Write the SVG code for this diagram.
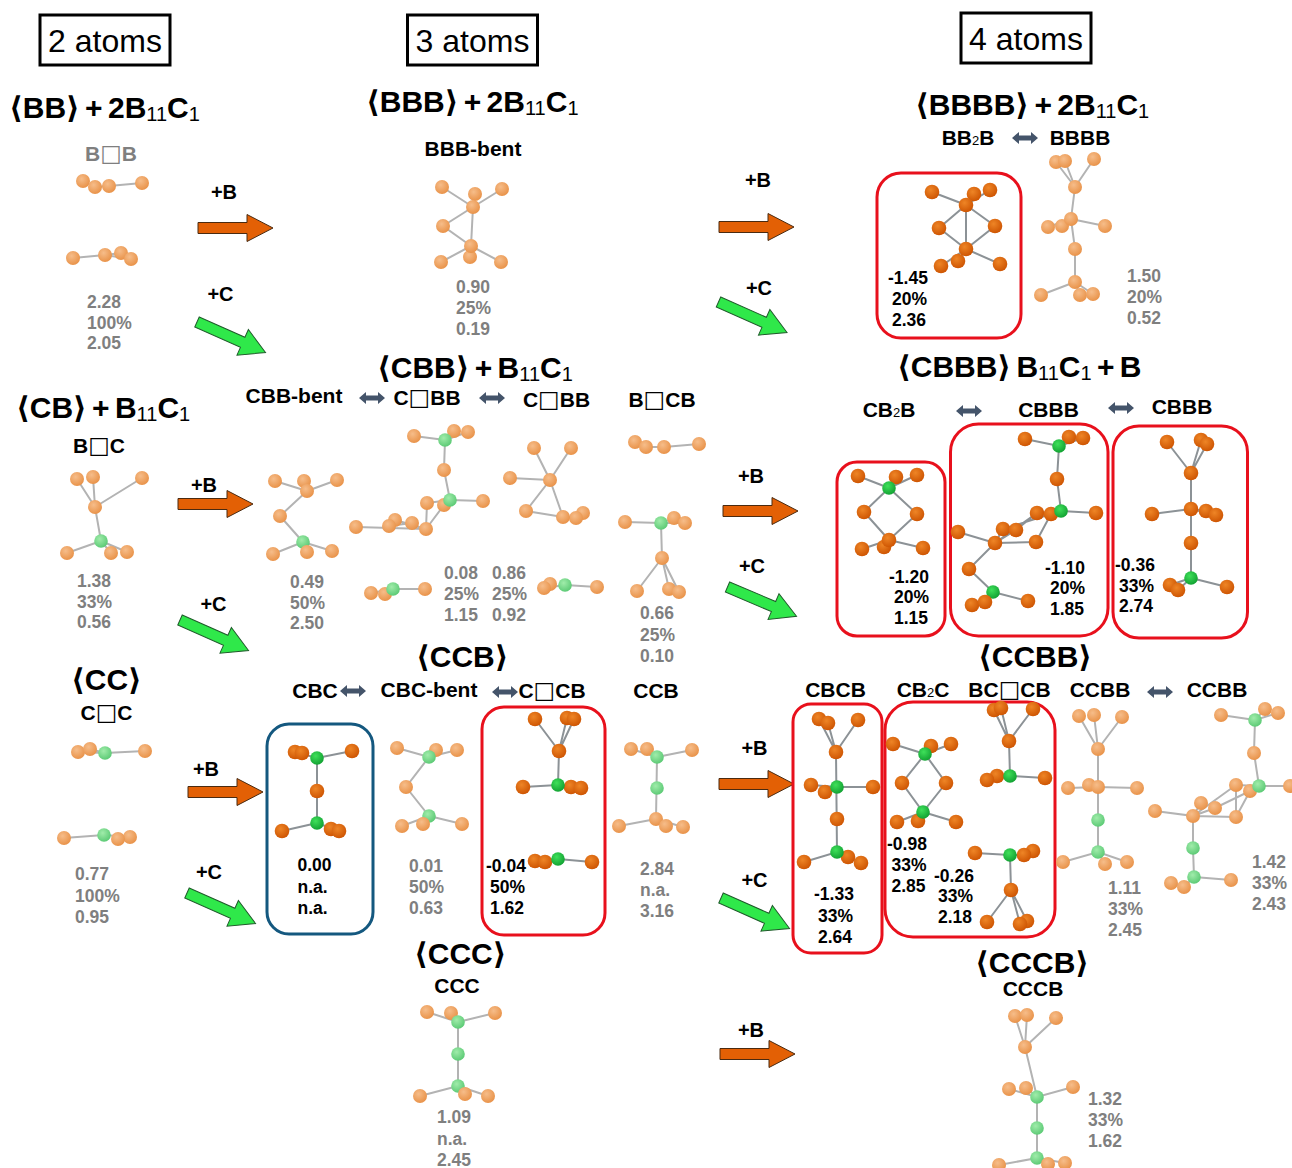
<svg xmlns="http://www.w3.org/2000/svg" width="1292" height="1168" viewBox="0 0 1292 1168">
<style>
text{font-family:"Liberation Sans","DejaVu Sans",sans-serif;font-weight:700;fill:#000}
.t{font-size:32px;font-weight:400;text-anchor:middle}
.h{font-size:30px;word-spacing:-3px}
.s{font-size:20px;font-weight:400}
.l{font-size:21px;text-anchor:middle}
.q{font-family:"DejaVu Sans",sans-serif;font-weight:400;font-size:23px}
.ls{font-size:13px;font-weight:400}
.p{font-size:20px;text-anchor:middle}
.n{font-size:17.5px}
.g{fill:#7f7f7f}
.bl,.bd{fill:none;stroke-linecap:round}
.bl{stroke:#b3b3b3;stroke-width:2}
.bd{stroke:#8c9296;stroke-width:2}
.box{fill:none;stroke-width:3}
.r{stroke:#e8101c}
.u{stroke:#14587f}
.hb{fill:#fff;stroke:#000;stroke-width:3}
.ao{fill:#e36005;stroke:#4a2a10;stroke-width:1}
.ag{fill:#2fe84a;stroke:#1f5a2a;stroke-width:1}
.da{fill:#44546a}
</style>
<defs>
<radialGradient id="go" cx="40%" cy="35%" r="70%"><stop offset="0" stop-color="#f6bd8a"/><stop offset="1" stop-color="#e89045"/></radialGradient>
<radialGradient id="gO" cx="40%" cy="35%" r="70%"><stop offset="0" stop-color="#ee8526"/><stop offset="1" stop-color="#cc5200"/></radialGradient>
<radialGradient id="gg" cx="40%" cy="35%" r="70%"><stop offset="0" stop-color="#a0ecaa"/><stop offset="1" stop-color="#58c872"/></radialGradient>
<radialGradient id="gG" cx="40%" cy="35%" r="70%"><stop offset="0" stop-color="#3fe05a"/><stop offset="1" stop-color="#0f9e30"/></radialGradient>
<circle id="o" r="7" fill="url(#go)"/>
<circle id="O" r="7.3" fill="url(#gO)"/>
<circle id="g" r="6.8" fill="url(#gg)"/>
<circle id="G" r="6.8" fill="url(#gG)"/>
<polygon id="arO" class="ao" points="0,-5.5 49,-5.5 49,-13.5 75,0 49,13.5 49,5.5 0,5.5"/>
<polygon id="arG" class="ag" points="0,-5.5 50,-5.5 50,-14 75,0 50,14 50,5.5 0,5.5"/>
<polygon id="da" class="da" points="-13,0 -6,-6 -6,-2.500 6,-2.500 6,-6 13,0 6,6 6,2.500 -6,2.500 -6,6"/>
</defs>
<rect width="1292" height="1168" fill="#fff"/>

<g id="connectors">
<use href="#arO" x="198" y="228"/>
<use href="#arO" x="719" y="227"/>
<use href="#arO" x="178" y="504"/>
<use href="#arO" x="723" y="511"/>
<use href="#arO" x="188" y="792"/>
<use href="#arO" x="719" y="784"/>
<use href="#arO" x="720" y="1054"/>
<use href="#arG" transform="translate(197 322) rotate(24)"/>
<use href="#arG" transform="translate(718.5 302) rotate(24)"/>
<use href="#arG" transform="translate(180 620) rotate(24)"/>
<use href="#arG" transform="translate(727.5 587) rotate(23)"/>
<use href="#arG" transform="translate(187 893) rotate(24)"/>
<use href="#arG" transform="translate(721 898) rotate(24)"/>
<use href="#da" x="372" y="398"/>
<use href="#da" x="492" y="398"/>
<use href="#da" x="1025" y="138"/>
<use href="#da" x="969" y="411"/>
<use href="#da" x="1121" y="408"/>
<use href="#da" x="353" y="691"/>
<use href="#da" x="505" y="692"/>
<use href="#da" x="1160" y="692"/>
<text class="p" x="224" y="199">+B</text>
<text class="p" x="220.5" y="301">+C</text>
<text class="p" x="758" y="187">+B</text>
<text class="p" x="759" y="295">+C</text>
<text class="p" x="204" y="492">+B</text>
<text class="p" x="213.5" y="611">+C</text>
<text class="p" x="751" y="483">+B</text>
<text class="p" x="752" y="573">+C</text>
<text class="p" x="206" y="776">+B</text>
<text class="p" x="209" y="879">+C</text>
<text class="p" x="754.5" y="755">+B</text>
<text class="p" x="754.5" y="887">+C</text>
<text class="p" x="751" y="1037">+B</text>
</g>

<g id="headers">
<rect class="hb" x="40" y="15" width="130" height="50"/><text class="t" x="105" y="52">2 atoms</text>
<rect class="hb" x="407.500" y="15" width="130" height="50"/><text class="t" x="472.500" y="52">3 atoms</text>
<rect class="hb" x="961" y="13" width="130" height="50"/><text class="t" x="1026" y="50">4 atoms</text>
<text class="h" x="9" y="118">⟨BB⟩ + 2B<tspan class="s" dy="3">11</tspan><tspan dy="-3">C</tspan><tspan class="s" dy="3">1</tspan></text>
<text class="h" x="366" y="112">⟨BBB⟩ + 2B<tspan class="s" dy="3">11</tspan><tspan dy="-3">C</tspan><tspan class="s" dy="3">1</tspan></text>
<text class="h" x="915" y="115">⟨BBBB⟩ + 2B<tspan class="s" dy="3">11</tspan><tspan dy="-3">C</tspan><tspan class="s" dy="3">1</tspan></text>
<text class="h" x="377" y="378">⟨CBB⟩ + B<tspan class="s" dy="3">11</tspan><tspan dy="-3">C</tspan><tspan class="s" dy="3">1</tspan></text>
<text class="h" x="897" y="377">⟨CBBB⟩ B<tspan class="s" dy="3">11</tspan><tspan dy="-3">C</tspan><tspan class="s" dy="3">1</tspan><tspan dy="-3"> + B</tspan></text>
<text class="h" x="16" y="418">⟨CB⟩ + B<tspan class="s" dy="3">11</tspan><tspan dy="-3">C</tspan><tspan class="s" dy="3">1</tspan></text>
<text class="h" x="416" y="667">⟨CCB⟩</text>
<text class="h" x="978" y="667">⟨CCBB⟩</text>
<text class="h" x="71" y="690">⟨CC⟩</text>
<text class="h" x="414" y="964">⟨CCC⟩</text>
<text class="h" x="975" y="973">⟨CCCB⟩</text>
</g>

<g id="labels">
<text class="l g" x="111" y="161">B<tspan class="q">□</tspan>B</text>
<text class="l" x="473" y="156">BBB-bent</text>
<text class="l" x="968" y="145">BB<tspan class="ls">2</tspan>B</text>
<text class="l" x="1080" y="145">BBBB</text>
<text class="l" x="294" y="403">CBB-bent</text>
<text class="l" x="427" y="405">C<tspan class="q">□</tspan>BB</text>
<text class="l" x="556.500" y="407">C<tspan class="q">□</tspan>BB</text>
<text class="l" x="662" y="407">B<tspan class="q">□</tspan>CB</text>
<text class="l" x="99" y="453">B<tspan class="q">□</tspan>C</text>
<text class="l" x="889" y="417">CB<tspan class="ls">2</tspan>B</text>
<text class="l" x="1048.500" y="417">CBBB</text>
<text class="l" x="1182" y="414">CBBB</text>
<text class="l" x="106.500" y="720">C<tspan class="q">□</tspan>C</text>
<text class="l" x="315" y="698">CBC</text>
<text class="l" x="429" y="697">CBC-bent</text>
<text class="l" x="552" y="698">C<tspan class="q">□</tspan>CB</text>
<text class="l" x="656" y="698">CCB</text>
<text class="l" x="835.500" y="697">CBCB</text>
<text class="l" x="923" y="697">CB<tspan class="ls">2</tspan>C</text>
<text class="l" x="1009.500" y="697">BC<tspan class="q">□</tspan>CB</text>
<text class="l" x="1100" y="697">CCBB</text>
<text class="l" x="1217" y="697">CCBB</text>
<text class="l" x="457" y="993">CCC</text>
<text class="l" x="1033" y="996">CCCB</text>
</g>

<g id="highlight-boxes">
<rect class="box r" x="877" y="173" width="144" height="165" rx="24"/>
<rect class="box r" x="837" y="462" width="108" height="174" rx="20"/>
<rect class="box r" x="950.500" y="424" width="157.500" height="212" rx="28"/>
<rect class="box r" x="1113" y="426" width="134.500" height="212" rx="26"/>
<rect class="box u" x="267" y="724" width="106" height="210" rx="22"/>
<rect class="box r" x="482" y="707" width="123" height="228" rx="22"/>
<rect class="box r" x="793" y="704" width="89" height="249" rx="18"/>
<rect class="box r" x="885" y="702" width="170" height="235" rx="28"/>
</g>

<g id="mol-BoB">
<path class="bl" d="M83,181L95,187L109,186L142,183M73,258L105,255L131,259M105,255L121,253"/>
<use href="#o" x="83" y="181"/><use href="#o" x="95" y="187"/><use href="#o" x="109" y="186"/><use href="#o" x="142" y="183"/>
<use href="#o" x="73" y="258"/><use href="#o" x="105" y="255"/><use href="#o" x="121" y="253"/><use href="#o" x="131" y="259"/>
<text class="n g" x="87" y="308">2.28</text><text class="n g" x="87" y="329">100%</text><text class="n g" x="87" y="349">2.05</text>
</g>
<g id="mol-BBB-bent">
<path class="bl" d="M442,187L473,207M475,194L473,207M502,189L473,207M473,207L443,226L471,246M473,207L471,246M471,246L470,257M471,246L441,262M471,246L501,262"/>
<use href="#o" x="442" y="187"/><use href="#o" x="475" y="194"/><use href="#o" x="502" y="189"/><use href="#o" x="473" y="207"/><use href="#o" x="443" y="226"/><use href="#o" x="470" y="257"/><use href="#o" x="471" y="246"/><use href="#o" x="441" y="262"/><use href="#o" x="501" y="262"/>
<text class="n g" x="456" y="293">0.90</text><text class="n g" x="456" y="314">25%</text><text class="n g" x="456" y="335">0.19</text>
</g>
<g id="mol-BB2B">
<path class="bd" d="M932,192L966,205M974,194L966,205M990,190L966,205M966,205L939,228L966,249M966,205L995,226L966,249M966,205L966,249M966,249L941,266M966,249L958,261M966,249L1000,264"/>
<use href="#O" x="932" y="192"/><use href="#O" x="990" y="190"/><use href="#O" x="974" y="194"/><use href="#O" x="966" y="205"/><use href="#O" x="939" y="228"/><use href="#O" x="995" y="226"/><use href="#O" x="958" y="261"/><use href="#O" x="966" y="249"/><use href="#O" x="941" y="266"/><use href="#O" x="1000" y="264"/>
<text class="n" x="888" y="284">-1.45</text><text class="n" x="892" y="305">20%</text><text class="n" x="892" y="326">2.36</text>
</g>
<g id="mol-BBBB">
<path class="bl" d="M1056,162L1075,187M1065,161L1075,187M1094,159L1075,187M1075,187L1071,219M1071,219L1048,227M1071,219L1062,226M1071,219L1105,226M1071,219L1075,249L1075,282M1075,282L1041,295M1075,282L1080,295M1075,282L1093,294"/>
<use href="#o" x="1056" y="162"/><use href="#o" x="1065" y="161"/><use href="#o" x="1094" y="159"/><use href="#o" x="1075" y="187"/><use href="#o" x="1048" y="227"/><use href="#o" x="1062" y="226"/><use href="#o" x="1071" y="219"/><use href="#o" x="1105" y="226"/><use href="#o" x="1075" y="249"/><use href="#o" x="1075" y="282"/><use href="#o" x="1041" y="295"/><use href="#o" x="1080" y="295"/><use href="#o" x="1093" y="294"/>
<text class="n g" x="1127" y="282">1.50</text><text class="n g" x="1127" y="303">20%</text><text class="n g" x="1127" y="324">0.52</text>
</g>
<g id="mol-BoC">
<path class="bl" d="M77,479L95,507M93,477L95,507M142,478L95,507M95,507L101,541M101,541L67,553M101,541L111,553M101,541L127,552"/>
<use href="#o" x="77" y="479"/><use href="#o" x="93" y="477"/><use href="#o" x="142" y="478"/><use href="#o" x="95" y="507"/><use href="#g" x="101" y="541"/><use href="#o" x="67" y="553"/><use href="#o" x="111" y="553"/><use href="#o" x="127" y="552"/>
<text class="n g" x="77" y="587">1.38</text><text class="n g" x="77" y="608">33%</text><text class="n g" x="77" y="628">0.56</text>
</g>
<g id="mol-CBB-bent">
<path class="bl" d="M275,481L307,491M304,481L307,491M337,480L307,491M307,491L280,516L303,542M303,542L273,554M303,542L307,552M303,542L332,551"/>
<use href="#o" x="275" y="481"/><use href="#o" x="304" y="481"/><use href="#o" x="337" y="480"/><use href="#o" x="307" y="491"/><use href="#o" x="280" y="516"/><use href="#g" x="303" y="542"/><use href="#o" x="273" y="554"/><use href="#o" x="307" y="552"/><use href="#o" x="332" y="551"/>
<text class="n g" x="290" y="588">0.49</text><text class="n g" x="290" y="609">50%</text><text class="n g" x="290" y="629">2.50</text>
</g>
<g id="mol-CoBB-1">
<path class="bl" d="M414,436L445,440M454,431L445,440M468,432L445,440M445,440L444,470L450,500M450,500L483,501M450,500L444,505M450,500L427,503M444,505L426,529M427,503L426,529M426,529L356,527M389,526L395,520L426,529M412,523L389,526M371,593L393,589L425,589"/>
<use href="#o" x="414" y="436"/><use href="#o" x="454" y="431"/><use href="#o" x="468" y="432"/><use href="#g" x="445" y="440"/><use href="#o" x="444" y="470"/><use href="#o" x="483" y="501"/><use href="#o" x="427" y="503"/><use href="#o" x="444" y="505"/><use href="#g" x="450" y="500"/><use href="#o" x="356" y="527"/><use href="#o" x="395" y="520"/><use href="#o" x="389" y="526"/><use href="#o" x="412" y="523"/><use href="#o" x="426" y="529"/>
<use href="#o" x="371" y="593"/><use href="#o" x="385" y="594"/><use href="#g" x="393" y="589"/><use href="#o" x="425" y="589"/>
<text class="n g" x="444" y="579">0.08</text><text class="n g" x="444" y="600">25%</text><text class="n g" x="444" y="621">1.15</text>
</g>
<g id="mol-CoBB-2">
<path class="bl" d="M534,448L550,480M571,448L550,480M510,478L550,480M550,480L526,511L563,517L550,480M563,517L576,518M544,588L565,585L597,587"/>
<use href="#o" x="534" y="448"/><use href="#o" x="571" y="448"/><use href="#o" x="510" y="478"/><use href="#o" x="550" y="480"/><use href="#o" x="526" y="511"/><use href="#o" x="583" y="513"/><use href="#o" x="576" y="518"/><use href="#o" x="563" y="517"/>
<use href="#o" x="550" y="584"/><use href="#o" x="544" y="588"/><use href="#g" x="565" y="585"/><use href="#o" x="597" y="587"/>
<text class="n g" x="492" y="579">0.86</text><text class="n g" x="492" y="600">25%</text><text class="n g" x="492" y="621">0.92</text>
</g>
<g id="mol-BoCB">
<path class="bl" d="M635,442L646,447L664,447L699,444M625,522L661,523L685,523M661,523L674,518M661,523L662,558M662,558L637,591M662,558L669,589M662,558L679,592"/>
<use href="#o" x="635" y="442"/><use href="#o" x="646" y="447"/><use href="#o" x="664" y="447"/><use href="#o" x="699" y="444"/><use href="#o" x="625" y="522"/><use href="#o" x="674" y="518"/><use href="#g" x="661" y="523"/><use href="#o" x="685" y="523"/><use href="#o" x="662" y="558"/><use href="#o" x="637" y="591"/><use href="#o" x="669" y="589"/><use href="#o" x="679" y="592"/>
<text class="n g" x="640" y="619">0.66</text><text class="n g" x="640" y="641">25%</text><text class="n g" x="640" y="662">0.10</text>
</g>
<g id="mol-CB2B">
<path class="bd" d="M858,476L889,488M896,477L889,488M917,475L889,488M889,488L864,512L889,540M889,488L917,514L889,540M889,540L862,549M889,540L884,547M889,540L923,548"/>
<use href="#O" x="858" y="476"/><use href="#O" x="896" y="477"/><use href="#O" x="917" y="475"/><use href="#G" x="889" y="488"/><use href="#O" x="864" y="512"/><use href="#O" x="917" y="514"/><use href="#O" x="884" y="547"/><use href="#O" x="889" y="540"/><use href="#O" x="862" y="549"/><use href="#O" x="923" y="548"/>
<text class="n" x="889" y="583">-1.20</text><text class="n" x="894" y="603">20%</text><text class="n" x="894" y="624">1.15</text>
</g>
<g id="mol-CBBB-1">
<path class="bd" d="M1025,439L1059,446M1069,437L1059,446M1083,438L1059,446M1059,446L1057,479L1061,511M1061,511L1096,513M1061,511L1037,513M1051,514L1036,542M1037,513L995,543M1036,542L995,543M995,543L1016,530L1037,513M995,543L1003,529L1051,514M958,532L995,543L969,569L993,592M993,592L1028,601M993,592L985,602L972,605"/>
<use href="#O" x="1025" y="439"/><use href="#O" x="1069" y="437"/><use href="#O" x="1083" y="438"/><use href="#G" x="1059" y="446"/><use href="#O" x="1057" y="479"/><use href="#O" x="1096" y="513"/><use href="#O" x="1037" y="513"/><use href="#O" x="1051" y="514"/><use href="#G" x="1061" y="511"/><use href="#O" x="1036" y="542"/><use href="#O" x="1003" y="529"/><use href="#O" x="1016" y="530"/><use href="#O" x="995" y="543"/><use href="#O" x="958" y="532"/><use href="#O" x="969" y="569"/><use href="#G" x="993" y="592"/><use href="#O" x="1028" y="601"/><use href="#O" x="972" y="605"/><use href="#O" x="985" y="602"/>
<text class="n" x="1045" y="574">-1.10</text><text class="n" x="1050" y="594">20%</text><text class="n" x="1050" y="615">1.85</text>
</g>
<g id="mol-CBBB-2">
<path class="bd" d="M1167,442L1191,473M1201,440L1191,473M1207,444L1191,473M1191,473L1191,578M1152,514L1191,509L1216,515M1191,509L1206,511M1191,578L1170,585M1191,578L1178,590M1191,578L1227,587"/>
<use href="#O" x="1167" y="442"/><use href="#O" x="1201" y="440"/><use href="#O" x="1207" y="444"/><use href="#O" x="1191" y="473"/><use href="#O" x="1152" y="514"/><use href="#O" x="1206" y="511"/><use href="#O" x="1191" y="509"/><use href="#O" x="1216" y="515"/><use href="#O" x="1191" y="543"/><use href="#G" x="1191" y="578"/><use href="#O" x="1170" y="585"/><use href="#O" x="1178" y="590"/><use href="#O" x="1227" y="587"/>
<text class="n" x="1115" y="571">-0.36</text><text class="n" x="1119" y="592">33%</text><text class="n" x="1119" y="612">2.74</text>
</g>
<g id="mol-CoC">
<path class="bl" d="M78,752L105,753L145,751M90,749L105,753M64,838L104,835L130,837"/>
<use href="#o" x="78" y="752"/><use href="#o" x="90" y="749"/><use href="#g" x="105" y="753"/><use href="#o" x="145" y="751"/>
<use href="#o" x="64" y="838"/><use href="#g" x="104" y="835"/><use href="#o" x="130" y="837"/><use href="#o" x="118" y="839"/>
<text class="n g" x="75" y="880">0.77</text><text class="n g" x="75" y="902">100%</text><text class="n g" x="75" y="923">0.95</text>
</g>
<g id="mol-CBC">
<path class="bd" d="M295,752L317,758L352,751M317,758L317,823M317,823L282,831M317,823L339,831"/>
<use href="#O" x="295" y="752"/><use href="#O" x="302" y="753"/><use href="#O" x="352" y="751"/><use href="#G" x="317" y="758"/><use href="#O" x="317" y="791"/><use href="#G" x="317" y="823"/><use href="#O" x="282" y="831"/><use href="#O" x="331" y="829"/><use href="#O" x="339" y="831"/>
<text class="n" x="297.500" y="871">0.00</text><text class="n" x="297.500" y="893">n.a.</text><text class="n" x="297.500" y="914">n.a.</text>
</g>
<g id="mol-CBC-bent">
<path class="bl" d="M397,748L429,757M436,750L429,757M457,750L429,757M429,757L406,787L429,816M429,816L402,826M429,816L423,824M429,816L462,824"/>
<use href="#o" x="397" y="748"/><use href="#o" x="436" y="750"/><use href="#o" x="457" y="750"/><use href="#g" x="429" y="757"/><use href="#o" x="406" y="787"/><use href="#g" x="429" y="816"/><use href="#o" x="402" y="826"/><use href="#o" x="423" y="824"/><use href="#o" x="462" y="824"/>
<text class="n g" x="409" y="872">0.01</text><text class="n g" x="409" y="893">50%</text><text class="n g" x="409" y="914">0.63</text>
</g>
<g id="mol-CoCB">
<path class="bd" d="M535,719L559,751M567,718L559,751M574,719L559,751M559,751L558,785M523,787L558,785L581,788M535,861L558,859L592,862"/>
<use href="#O" x="535" y="719"/><use href="#O" x="567" y="718"/><use href="#O" x="574" y="719"/><use href="#O" x="559" y="751"/><use href="#O" x="523" y="787"/><use href="#O" x="571" y="787"/><use href="#O" x="581" y="788"/><use href="#G" x="558" y="785"/>
<use href="#O" x="535" y="861"/><use href="#O" x="545" y="862"/><use href="#G" x="558" y="859"/><use href="#O" x="592" y="862"/>
<text class="n" x="486" y="872">-0.04</text><text class="n" x="490" y="893">50%</text><text class="n" x="490" y="914">1.62</text>
</g>
<g id="mol-CCB">
<path class="bl" d="M631,749L657,757M647,749L657,757M692,750L657,757M657,757L656,819M656,819L619,826M656,819L666,826M656,819L683,827"/>
<use href="#o" x="631" y="749"/><use href="#o" x="647" y="749"/><use href="#o" x="692" y="750"/><use href="#g" x="657" y="757"/><use href="#g" x="657" y="788"/><use href="#o" x="656" y="819"/><use href="#o" x="619" y="826"/><use href="#o" x="666" y="826"/><use href="#o" x="683" y="827"/>
<text class="n g" x="640" y="875">2.84</text><text class="n g" x="640" y="896">n.a.</text><text class="n g" x="640" y="917">3.16</text>
</g>
<g id="mol-CBCB">
<path class="bd" d="M819,719L836,752M828,723L836,752M858,720L836,752M836,752L837,852M811,785L837,787L873,787M825,792L837,787M804,862L837,852L861,863M837,852L848,857"/>
<use href="#O" x="819" y="719"/><use href="#O" x="828" y="723"/><use href="#O" x="858" y="720"/><use href="#O" x="836" y="752"/><use href="#O" x="811" y="785"/><use href="#O" x="825" y="792"/><use href="#G" x="837" y="787"/><use href="#O" x="873" y="787"/><use href="#O" x="837" y="819"/><use href="#O" x="848" y="857"/><use href="#G" x="837" y="852"/><use href="#O" x="804" y="862"/><use href="#O" x="861" y="863"/>
<text class="n" x="814" y="900">-1.33</text><text class="n" x="818" y="922">33%</text><text class="n" x="818" y="943">2.64</text>
</g>
<g id="mol-CB2C">
<path class="bd" d="M893,744L925,754M931,746L925,754M951,744L925,754M925,754L902,783L923,812M925,754L946,783L923,812M923,812L897,822M923,812L918,821M923,812L956,822"/>
<use href="#O" x="893" y="744"/><use href="#O" x="931" y="746"/><use href="#O" x="951" y="744"/><use href="#G" x="925" y="754"/><use href="#O" x="902" y="783"/><use href="#O" x="946" y="783"/><use href="#O" x="918" y="821"/><use href="#G" x="923" y="812"/><use href="#O" x="897" y="822"/><use href="#O" x="956" y="822"/>
<text class="n" x="887" y="850">-0.98</text><text class="n" x="891.500" y="871">33%</text><text class="n" x="891.500" y="892">2.85</text>
</g>
<g id="mol-BCoCB">
<path class="bd" d="M994,710L1009,741M1001,708L1009,741M1033,709L1009,741M1009,741L1010,776M987,780L1010,776L1045,778M997,776L1010,776M975,853L1010,855L1024,855M1010,855L1011,890M1011,890L987,922M1011,890L1020,924M1011,890L1027,921"/>
<use href="#O" x="994" y="710"/><use href="#O" x="1001" y="708"/><use href="#O" x="1033" y="709"/><use href="#O" x="1009" y="741"/><use href="#O" x="997" y="776"/><use href="#O" x="987" y="780"/><use href="#G" x="1010" y="776"/><use href="#O" x="1045" y="778"/>
<use href="#O" x="975" y="853"/><use href="#O" x="1033" y="851"/><use href="#O" x="1024" y="855"/><use href="#G" x="1010" y="855"/><use href="#O" x="1011" y="890"/><use href="#O" x="987" y="922"/><use href="#O" x="1027" y="921"/><use href="#O" x="1020" y="924"/>
<text class="n" x="934" y="882">-0.26</text><text class="n" x="938" y="902">33%</text><text class="n" x="938" y="923">2.18</text>
</g>
<g id="mol-CCBB-1">
<path class="bl" d="M1079,716L1098,749M1094,715L1098,749M1122,717L1098,749M1098,749L1098,852M1068,788L1098,787L1137,788M1089,785L1098,787M1063,862L1098,852L1127,862M1098,852L1105,864"/>
<use href="#o" x="1079" y="716"/><use href="#o" x="1094" y="715"/><use href="#o" x="1122" y="717"/><use href="#o" x="1098" y="749"/><use href="#o" x="1068" y="788"/><use href="#o" x="1089" y="785"/><use href="#o" x="1098" y="787"/><use href="#o" x="1137" y="788"/><use href="#g" x="1098" y="820"/><use href="#g" x="1098" y="852"/><use href="#o" x="1063" y="862"/><use href="#o" x="1105" y="864"/><use href="#o" x="1127" y="862"/>
<text class="n g" x="1108" y="894">1.11</text><text class="n g" x="1108" y="915">33%</text><text class="n g" x="1108" y="936">2.45</text>
</g>
<g id="mol-CCBB-2">
<path class="bl" d="M1221,715L1255,720M1265,709L1255,720M1278,713L1255,720M1255,720L1254,753L1259,786M1259,786L1292,786M1259,786L1236,785M1259,786L1250,791L1236,817M1236,785L1193,816M1236,785L1236,817M1236,817L1193,816M1193,816L1215,808L1250,791M1193,816L1201,803M1155,811L1193,816L1193,848L1194,877M1194,877L1231,880M1194,877L1184,887L1171,883"/>
<use href="#o" x="1221" y="715"/><use href="#o" x="1265" y="709"/><use href="#o" x="1278" y="713"/><use href="#g" x="1255" y="720"/><use href="#o" x="1254" y="753"/><use href="#o" x="1290" y="786"/><use href="#o" x="1236" y="785"/><use href="#o" x="1250" y="791"/><use href="#g" x="1259" y="786"/><use href="#o" x="1236" y="817"/><use href="#o" x="1201" y="803"/><use href="#o" x="1215" y="808"/><use href="#o" x="1193" y="816"/><use href="#o" x="1155" y="811"/><use href="#g" x="1193" y="848"/><use href="#g" x="1194" y="877"/><use href="#o" x="1231" y="880"/><use href="#o" x="1171" y="883"/><use href="#o" x="1184" y="887"/>
<text class="n g" x="1252" y="868">1.42</text><text class="n g" x="1252" y="889">33%</text><text class="n g" x="1252" y="910">2.43</text>
</g>
<g id="mol-CCC">
<path class="bl" d="M427,1012L458,1022M451,1013L458,1022M495,1013L458,1022M458,1022L458,1086M458,1086L420,1096M458,1086L465,1094M458,1086L488,1096"/>
<use href="#o" x="427" y="1012"/><use href="#o" x="451" y="1013"/><use href="#o" x="495" y="1013"/><use href="#g" x="458" y="1022"/><use href="#g" x="458" y="1054"/><use href="#g" x="458" y="1086"/><use href="#o" x="420" y="1096"/><use href="#o" x="465" y="1094"/><use href="#o" x="488" y="1096"/>
<text class="n g" x="437" y="1123">1.09</text><text class="n g" x="437" y="1145">n.a.</text><text class="n g" x="437" y="1166">2.45</text>
</g>
<g id="mol-CCCB">
<path class="bl" d="M1015,1016L1025,1047M1027,1015L1025,1047M1056,1018L1025,1047M1025,1047L1037,1097M1009,1089L1037,1097L1073,1087M1026,1088L1037,1097M1037,1097L1037,1158M999,1165L1037,1158L1065,1163M1037,1158L1048,1164"/>
<use href="#o" x="1015" y="1016"/><use href="#o" x="1027" y="1015"/><use href="#o" x="1056" y="1018"/><use href="#o" x="1025" y="1047"/><use href="#o" x="1009" y="1089"/><use href="#o" x="1026" y="1088"/><use href="#o" x="1073" y="1087"/><use href="#g" x="1037" y="1097"/><use href="#g" x="1037" y="1128"/><use href="#g" x="1037" y="1158"/><use href="#o" x="999" y="1165"/><use href="#o" x="1048" y="1164"/><use href="#o" x="1065" y="1163"/>
<text class="n g" x="1088" y="1105">1.32</text><text class="n g" x="1088" y="1126">33%</text><text class="n g" x="1088" y="1147">1.62</text>
</g>
</svg>
